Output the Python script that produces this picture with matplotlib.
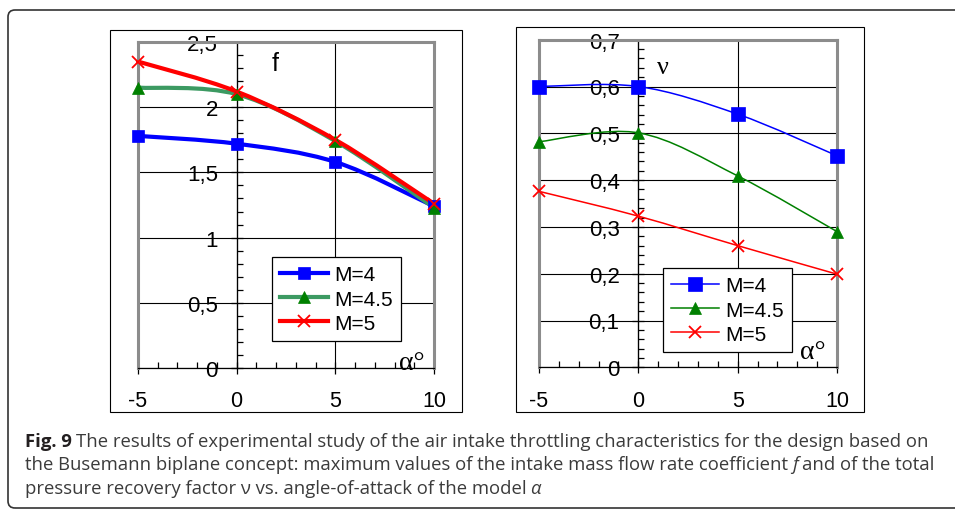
import numpy as np
import matplotlib
matplotlib.use("Agg")
import matplotlib.pyplot as plt
from matplotlib.path import Path
from matplotlib.patches import PathPatch, Rectangle, FancyBboxPatch
from matplotlib.lines import Line2D
from matplotlib.text import Annotation
from matplotlib.ticker import MultipleLocator
from matplotlib.transforms import IdentityTransform

plt.rcParams['font.family'] = ['Liberation Sans', 'DejaVu Sans']

W, H = 955, 510

# data
alpha = [-5, 0, 5, 10]
f_m4 = [1.78, 1.72, 1.58, 1.24]
f_m45 = [2.15, 2.10, 1.74, 1.23]
f_m5 = [2.35, 2.12, 1.75, 1.26]
nu_m4 = [0.600, 0.600, 0.541, 0.452]
nu_m45 = [0.482, 0.501, 0.409, 0.290]
nu_m5 = [0.376, 0.323, 0.260, 0.199]
labels = ["M=4", "M=4.5", "M=5"]
x_ticks = [-5, 0, 5, 10]
x_ticklabels = ["-5", "0", "5", "10"]
f_ticks = [0, 0.5, 1, 1.5, 2, 2.5]
f_ticklabels = ["0", "0,5", "1", "1,5", "2", "2,5"]
nu_ticks = [0, 0.1, 0.2, 0.3, 0.4, 0.5, 0.6, 0.7]
nu_ticklabels = ["0", "0,1", "0,2", "0,3", "0,4", "0,5", "0,6", "0,7"]


def px_rect(l, t, r, b):
    return [l / W, 1 - b / H, (r - l) / W, (b - t) / H]


def smooth(xs, ys):
    # excel-like smoothed line (catmull-rom as cubic bezier)
    p = np.column_stack([xs, ys]).astype(float)
    ext = np.vstack([p[0], p, p[-1]])
    verts = [p[0]]
    codes = [Path.MOVETO]
    for i in range(len(p) - 1):
        c1 = ext[i + 1] + (ext[i + 2] - ext[i]) / 6
        c2 = ext[i + 2] - (ext[i + 3] - ext[i + 1]) / 6
        verts += [c1, c2, ext[i + 2]]
        codes += [Path.CURVE4] * 3
    return Path(verts, codes)


def series(ax, xs, ys, color, lw, marker, ms, mcolor):
    ax.add_patch(PathPatch(smooth(xs, ys), fc='none', ec=color, lw=lw,
                           capstyle='round', joinstyle='round', clip_on=False))
    mew = 1.3 if marker == 'x' else 0.5
    ax.plot(xs, ys, ls='none', marker=marker, ms=ms, color=mcolor, mew=mew,
            clip_on=False, zorder=3)
    return Line2D([], [], color=color, lw=lw, marker=marker, ms=ms,
                  mfc=mcolor, mec=mcolor, mew=mew)


def frame(ax, ymax, yminor, ticks, ticklabels):
    ax.set_xlim(-5, 10)
    ax.set_ylim(0, ymax)
    ax.set_xticks(x_ticks)
    ax.set_xticklabels(x_ticklabels)
    ax.set_yticks(ticks)
    ax.set_yticklabels(ticklabels)
    ax.xaxis.set_minor_locator(MultipleLocator(1))
    ax.yaxis.set_minor_locator(MultipleLocator(yminor))
    ax.grid(True, which='major', color='k', lw=0.8)
    ax.set_axisbelow(True)
    ax.spines['left'].set_position(('data', 0))
    for s in ['left', 'bottom']:
        ax.spines[s].set_color('k')
        ax.spines[s].set_linewidth(0.9)
    for s in ['top', 'right']:
        ax.spines[s].set_color('#8c8c8c')
        ax.spines[s].set_linewidth(2.2)
    ax.axvline(-5, color='#8c8c8c', lw=2.2, zorder=2.4, clip_on=False)
    ax.tick_params(axis='y', which='major', direction='inout', length=9,
                   width=0.9, pad=9, labelsize=16)
    ax.tick_params(axis='y', which='minor', direction='in', length=4.5, width=0.9)
    ax.tick_params(axis='x', which='major', direction='inout', length=8,
                   width=0.9, pad=12, labelsize=15.5)
    ax.tick_params(axis='x', which='minor', direction='in', length=4.5, width=0.9)


fig = plt.figure(figsize=(W / 100, H / 100), dpi=100)

# outer rounded border and chart boxes
fig.add_artist(FancyBboxPatch((8, 1), 980, 498, boxstyle="round,pad=0,rounding_size=7",
                              transform=IdentityTransform(), fc='none', ec='#333333', lw=1.2))
for box in [(110, 31, 462, 413), (516, 28, 864, 413)]:
    l, t, r, b = box
    fig.add_artist(Rectangle((l / W, 1 - b / H), (r - l) / W, (b - t) / H,
                             transform=fig.transFigure, fc='none', ec='k', lw=0.8))

# left chart: f
ax1 = fig.add_axes(px_rect(138, 43, 434, 369))
frame(ax1, 2.5, 0.1, f_ticks, f_ticklabels)
h1 = [series(ax1, alpha, f_m4, '#0000ff', 3.0, 's', 9, '#0000ff'),
      series(ax1, alpha, f_m45, '#3c9a62', 3.0, '^', 9, '#008000'),
      series(ax1, alpha, f_m5, '#ff0000', 3.0, 'x', 9, '#ff0000')]
ax1.text(1.94, 2.34, "f", fontsize=18, ha='center', va='center')
ax1.text(8.86, 0.045, "α°", fontsize=20, ha='center', va='center', family='Liberation Serif')
leg = ax1.legend(h1, labels, loc='upper left', bbox_to_anchor=(272 / W, 1 - 258 / H),
                 bbox_transform=fig.transFigure, borderaxespad=0, fontsize=15,
                 fancybox=False, framealpha=1, edgecolor='k', handlelength=2.3,
                 handletextpad=0.3, labelspacing=0.25, borderpad=0.4, numpoints=1)
leg.get_frame().set_linewidth(0.9)

# right chart: nu
ax2 = fig.add_axes(px_rect(539, 40.7, 837, 368.3))
frame(ax2, 0.7, 0.02, nu_ticks, nu_ticklabels)
h2 = [series(ax2, alpha, nu_m4, '#0000ff', 1.1, 's', 9.5, '#0000ff'),
      series(ax2, alpha, nu_m45, '#008000', 1.1, '^', 9, '#008000'),
      series(ax2, alpha, nu_m5, '#ff0000', 1.1, 'x', 9, '#ff0000')]
ax2.text(1.22, 0.642, "ν", fontsize=19, ha='center', va='center', family='Liberation Serif')
ax2.text(8.8, 0.033, "α°", fontsize=20, ha='center', va='center', family='Liberation Serif')
leg = ax2.legend(h2, labels, loc='upper left', bbox_to_anchor=(663 / W, 1 - 269 / H),
                 bbox_transform=fig.transFigure, borderaxespad=0, fontsize=15,
                 fancybox=False, framealpha=1, edgecolor='k', handlelength=2.3,
                 handletextpad=0.3, labelspacing=0.25, borderpad=0.4, numpoints=1)
leg.get_frame().set_linewidth(0.9)

# caption, built piece by piece so bold / italic parts follow on
cap_font = ['Open Sans', 'DejaVu Sans']
cap_size = 13.3
cap_color = '#3b3b3b'
cap_lines = [
    [("Fig. 9", 'bold', 'normal'),
     ("The results of experimental study of the air intake throttling characteristics for the design based on", 'normal', 'normal')],
    [("the Busemann biplane concept: maximum values of the intake mass flow rate coefficient", 'normal', 'normal'),
     ("f", 'normal', 'italic'),
     ("and of the total", 'normal', 'normal')],
    [("pressure recovery factor ν vs. angle-of-attack of the model", 'normal', 'normal'),
     ("α", 'normal', 'italic')],
]
baselines = [446.7, 470.5, 494]
for line, yb in zip(cap_lines, baselines):
    prev = None
    for txt, weight, style in line:
        kw = dict(fontsize=cap_size, family=cap_font, weight=weight, style=style,
                  color='#231f20' if weight == 'bold' else cap_color)
        if prev is None:
            prev = fig.text(25 / W, 1 - yb / H, txt, ha='left', va='baseline', **kw)
        else:
            a = Annotation(txt, xy=(1, 0), xycoords=prev, xytext=(2.8, 0),
                           textcoords='offset points', ha='left', va='bottom', **kw)
            fig.add_artist(a)
            prev = a

fig.savefig("out.png", dpi=100)
